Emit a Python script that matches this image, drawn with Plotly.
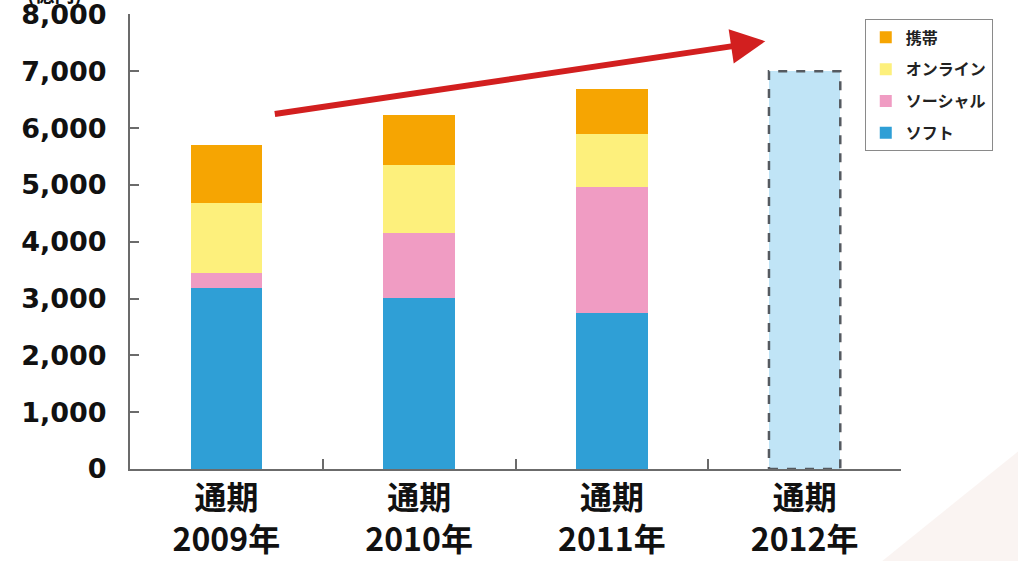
import plotly.graph_objects as go

# Fiscal-year categories (full-year results), unit: 100 million yen
categories = ["通期<br>2009年", "通期<br>2010年", "通期<br>2011年", "通期<br>2012年"]

soft = [3190, 3010, 2740, None]      # ソフト
social = [260, 1140, 2230, None]     # ソーシャル
online = [1240, 1200, 920, None]     # オンライン
mobile = [1010, 890, 800, None]      # 携帯
forecast = [None, None, None, 7000]  # 2012 target

y_ticks = [0, 1000, 2000, 3000, 4000, 5000, 6000, 7000, 8000]

BAR_WIDTH = 0.37
JP_FONT = "Noto Sans CJK JP"

series = [
    ("ソフト", soft, "#2f9fd6"),
    ("ソーシャル", social, "#f09cc3"),
    ("オンライン", online, "#fdf07c"),
    ("携帯", mobile, "#f6a502"),
]

fig = go.Figure()
for i, (name, vals, color) in enumerate(series):
    fig.add_trace(go.Bar(
        x=categories, y=vals, name=name, width=BAR_WIDTH,
        marker=dict(color=color, line=dict(width=0)),
        legendgroup=f"g{i}", legendrank=len(series) - i,
    ))

# forecast bar: light fill, dashed outline drawn as a shape
fig.add_trace(go.Bar(
    x=categories, y=forecast, width=BAR_WIDTH, showlegend=False,
    marker=dict(color="#c0e4f6", line=dict(width=0)),
))
fc_idx = 3
fig.add_shape(
    type="rect", xref="x", yref="y",
    x0=fc_idx - BAR_WIDTH / 2, x1=fc_idx + BAR_WIDTH / 2,
    y0=0, y1=forecast[fc_idx],
    line=dict(color="#555a60", width=2.5, dash="dash"),
    fillcolor="rgba(0,0,0,0)", layer="above",
)

# faint decorative swoosh in the lower-right corner
fig.add_shape(
    type="path", xref="paper", yref="paper", layer="below",
    path="M 1.16 0.05 L 1.16 -0.21 L 0.97 -0.21 Z",
    fillcolor="rgba(236,214,210,0.28)", line=dict(width=0),
)

# growth arrow
fig.add_annotation(
    x=0.824, y=0.94, xref="paper", yref="paper",
    ax=-492, ay=73, axref="pixel", ayref="pixel",
    showarrow=True, arrowhead=2, arrowsize=1.15, arrowwidth=6,
    arrowcolor="#d21f1f", text="",
)

# unit label at the top-left corner, partly above the page edge
fig.add_annotation(
    x=-0.136, y=1.0, xref="paper", yref="paper", xanchor="left", yanchor="middle",
    yshift=21, text="(億円)", showarrow=False,
    font=dict(family=JP_FONT, size=20, color="#111", weight="bold"),
)

fig.update_layout(
    width=1018, height=561,
    margin=dict(l=130, r=117, t=14, b=92),
    paper_bgcolor="white", plot_bgcolor="white",
    barmode="stack",
    showlegend=True,
    legend=dict(
        x=0.953, y=0.988, xanchor="left", yanchor="top",
        traceorder="grouped", tracegroupgap=8,
        bgcolor="white", bordercolor="#8a8a8a", borderwidth=1,
        font=dict(family=JP_FONT, size=16, color="#222", weight="bold"),
    ),
    xaxis=dict(
        type="category", showgrid=False, showline=True, linecolor="#6b6b6b", linewidth=2,
        ticks="inside", ticklen=10, tickwidth=2, tickcolor="#6b6b6b",
        tickson="boundaries", automargin=False,
        tickfont=dict(family=JP_FONT, size=32, color="#111", weight="bold"),
    ),
    yaxis=dict(
        range=[0, 8010], tickvals=y_ticks, showgrid=False, zeroline=False,
        showline=True, linecolor="#6b6b6b", linewidth=2,
        ticks="inside", ticklen=9, tickwidth=2, tickcolor="#6b6b6b",
        tickformat=",d", ticklabelstandoff=16, automargin=False,
        ticklabeloverflow="allow",
        tickfont=dict(family="DejaVu Sans", size=27, color="#111", weight="bold"),
    ),
)

fig.write_html("out.html")
